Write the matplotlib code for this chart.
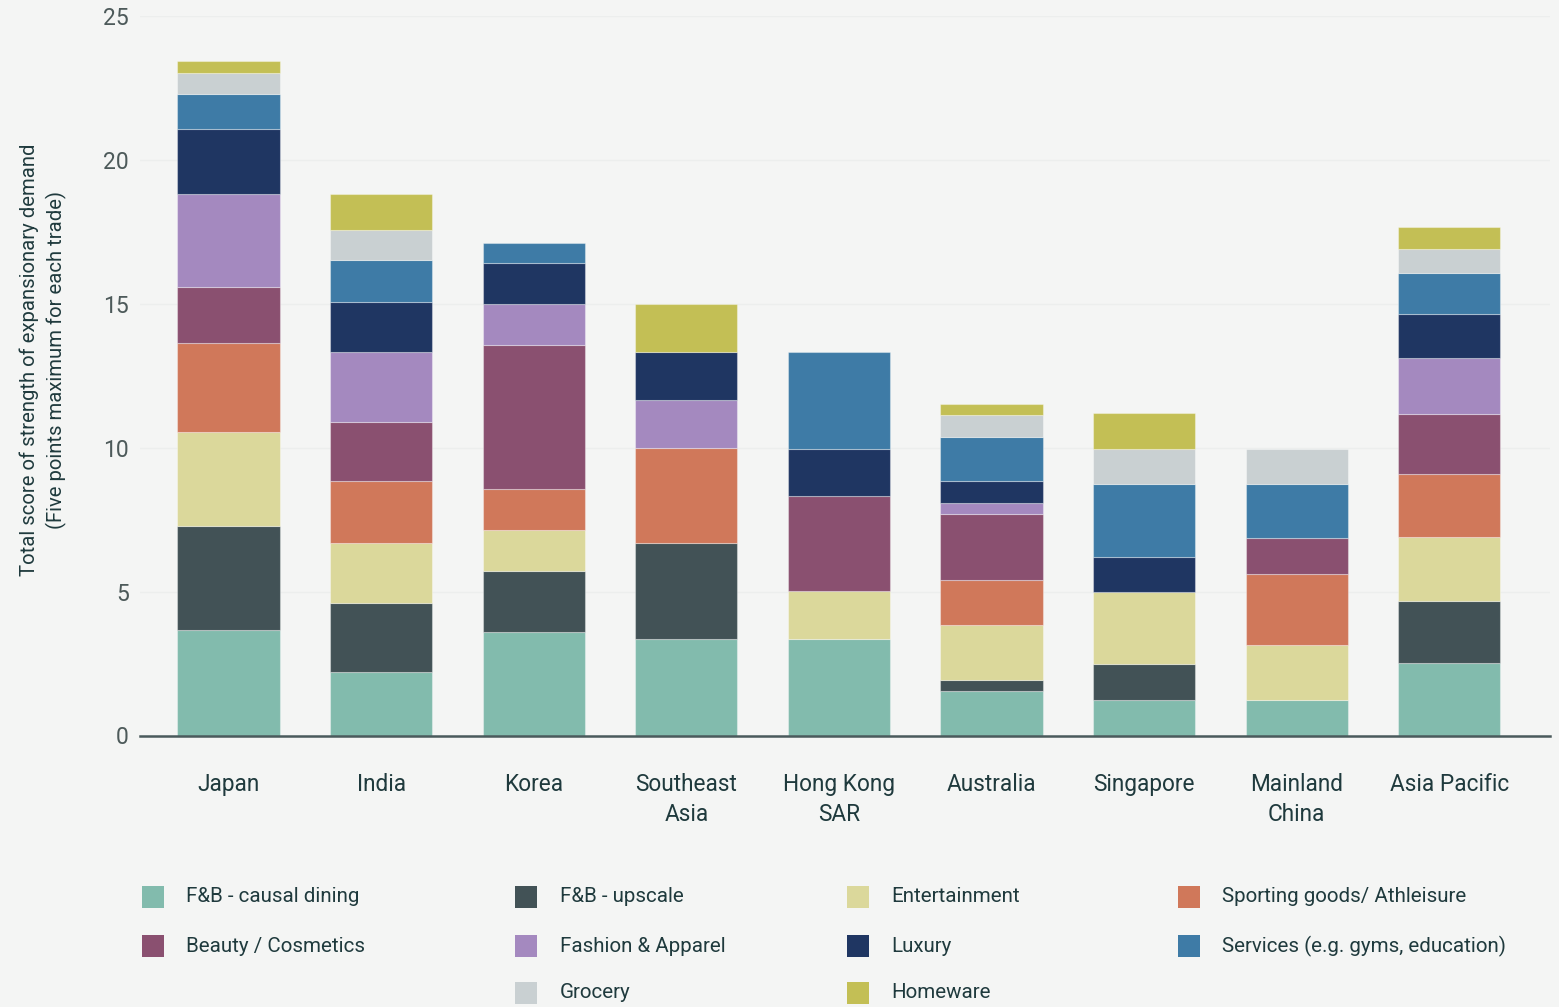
"""
Stacked bar chart: strength of expansionary demand by trade, Asia Pacific markets
"""

import numpy as np
from matplotlib import pyplot as plt
from matplotlib.patches import Rectangle

plt.rcParams['font.family'] = ['Roboto', 'DejaVu Sans']

markets = ["Japan", "India", "Korea", "Southeast\nAsia", "Hong Kong\nSAR",
           "Australia", "Singapore", "Mainland\nChina", "Asia Pacific"]

# scores per trade, one value per market
fb_casual = [3.68, 2.21, 3.60, 3.35, 3.34, 1.56, 1.25, 1.25, 2.51]
fb_upscale = [3.61, 2.39, 2.11, 3.33, 0.00, 0.36, 1.25, 0.00, 2.16]
entertainment = [3.27, 2.09, 1.42, 0.00, 1.68, 1.92, 2.48, 1.88, 2.24]
sporting = [3.09, 2.15, 1.44, 3.30, 0.00, 1.55, 0.00, 2.49, 2.16]
beauty = [1.92, 2.05, 4.99, 0.00, 3.30, 2.32, 0.00, 1.24, 2.11]
fashion = [3.25, 2.44, 1.43, 1.68, 0.00, 0.37, 0.00, 0.00, 1.95]
luxury = [2.26, 1.74, 1.42, 1.65, 1.65, 0.75, 1.23, 0.00, 1.51]
services = [1.20, 1.45, 0.69, 0.00, 3.34, 1.55, 2.52, 1.87, 1.42]
grocery = [0.74, 1.04, 0.00, 0.00, 0.00, 0.75, 1.23, 1.23, 0.86]
homeware = [0.41, 1.26, 0.00, 1.68, 0.00, 0.40, 1.26, 0.00, 0.74]

series = [
    ("F&B - causal dining", fb_casual, "#82bbad"),
    ("F&B - upscale", fb_upscale, "#425256"),
    ("Entertainment", entertainment, "#dbd89b"),
    ("Sporting goods/ Athleisure", sporting, "#d0785a"),
    ("Beauty / Cosmetics", beauty, "#8a5070"),
    ("Fashion & Apparel", fashion, "#a489bf"),
    ("Luxury", luxury, "#1f3662"),
    ("Services (e.g. gyms, education)", services, "#3e7ba6"),
    ("Grocery", grocery, "#c9d0d2"),
    ("Homeware", homeware, "#c3bf55"),
]

# legend layout: (column, row) of each entry, as in the original
legend_slots = [(0, 0), (1, 0), (2, 0), (3, 0),
                (0, 1), (1, 1), (2, 1), (3, 1),
                (1, 2), (2, 2)]

BG = "#f4f5f4"
TEXT = "#1f3a3d"
W, H = 1559, 1007

fig = plt.figure(figsize=(W / 100, H / 100), dpi=100, facecolor=BG)
ax = fig.add_axes([140 / W, 1 - 735.5 / H, 1410 / W, 719.5 / H], facecolor=BG)

x = np.arange(len(markets))
bottom = np.zeros(len(markets))
for label, values, color in series:
    values = np.array(values)
    edges = [(1, 1, 1, 0.35) if v > 0 else (1, 1, 1, 0) for v in values]
    ax.bar(x, values, width=0.67, bottom=bottom, color=color,
           edgecolor=edges, linewidth=0.8, zorder=3)
    bottom += values

ax.set_xlim(-0.58, 8.66)
ax.set_ylim(0, 25)
ax.set_yticks([0, 5, 10, 15, 20, 25])
ax.grid(axis='y', color='#eceeed', linewidth=1, zorder=0)

for side in ['top', 'right', 'left']:
    ax.spines[side].set_visible(False)
ax.spines['bottom'].set_color('#4a5a5c')
ax.spines['bottom'].set_linewidth(1.8)
ax.spines['bottom'].set_zorder(4)

ax.tick_params(axis='y', length=0, pad=8, labelsize=16.5, labelcolor='#4d5a5a')
ax.tick_params(axis='x', length=0, pad=27, labelsize=16.3, labelcolor=TEXT)
ax.set_xticks(x)
ax.set_xticklabels(markets, linespacing=1.4)

fig.text(43 / W, 1 - 360 / H,
         "Total score of strength of expansionary demand\n"
         "(Five points maximum for each trade)",
         rotation=90, ha='center', va='center', multialignment='center',
         fontsize=14.6, color=TEXT, linespacing=1.4)

# legend drawn as patches + text so the columns line up like the original
col_sq = [142, 515, 847, 1178]
col_txt = [186, 560, 891, 1222]
row_y = [897, 946, 993]
sq = 22
for (label, values, color), (c, r) in zip(series, legend_slots):
    yc = row_y[r]
    fig.add_artist(Rectangle((col_sq[c] / W, 1 - (yc + sq / 2) / H),
                             sq / W, sq / H, transform=fig.transFigure,
                             facecolor=color, edgecolor='none'))
    fig.text(col_txt[c] / W, 1 - yc / H, label, ha='left', va='center',
             fontsize=14.8, color=TEXT)

fig.savefig("out.png", dpi=100, facecolor=BG)
